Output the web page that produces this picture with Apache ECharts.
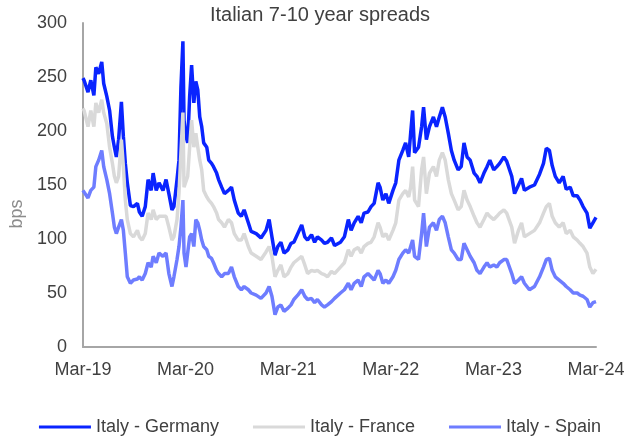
<!DOCTYPE html>
<html>
<head>
<meta charset="utf-8">
<script src="https://cdn.jsdelivr.net/npm/echarts@6/dist/echarts.min.js"></script>
<style>
  html, body { margin: 0; padding: 0; background: #fff; }
  #chart { width: 640px; height: 437px; }
</style>
</head>
<body>
<div id="chart"></div>
<script>
// dates (roughly every 10-14 days)
var dates = [
  '2019-03-01','2019-03-05','2019-03-19','2019-03-29','2019-04-09','2019-04-16','2019-04-26','2019-05-07','2019-05-14','2019-05-25',
  '2019-06-04','2019-06-14','2019-06-21','2019-06-28','2019-07-06','2019-07-16','2019-07-23','2019-07-30','2019-08-06','2019-08-17',
  '2019-08-28','2019-09-11','2019-09-18','2019-09-28','2019-10-09','2019-10-19','2019-10-30','2019-11-06','2019-11-17','2019-11-27',
  '2019-12-11',
  '2019-12-22','2020-01-01','2020-01-12','2020-01-19','2020-01-30','2020-02-06','2020-02-13','2020-02-20','2020-02-24','2020-03-02',
  '2020-03-08','2020-03-15','2020-03-22','2020-03-30','2020-04-06','2020-04-13','2020-04-20','2020-04-27','2020-05-04','2020-05-15',
  '2020-05-22','2020-06-01','2020-06-08','2020-06-19','2020-06-26','2020-07-07','2020-07-17','2020-07-31','2020-08-11','2020-08-21',
  '2020-09-04','2020-09-15','2020-09-25','2020-10-10',
  '2020-10-20','2020-11-07','2020-11-24','2020-12-12','2020-12-23','2021-01-02','2021-01-13','2021-01-23','2021-02-03','2021-02-14',
  '2021-02-28','2021-03-11','2021-03-21','2021-04-04','2021-04-18','2021-04-29','2021-05-09','2021-05-23','2021-06-03','2021-06-13',
  '2021-06-28','2021-07-08','2021-07-19','2021-08-02','2021-08-13',
  '2021-08-20','2021-09-03','2021-09-17','2021-10-01','2021-10-11','2021-10-22','2021-11-05','2021-11-16','2021-11-26','2021-12-10',
  '2021-12-21','2022-01-01','2022-01-15','2022-01-22','2022-02-01','2022-02-12','2022-02-22','2022-03-09','2022-03-19','2022-03-30',
  '2022-04-13','2022-04-23','2022-05-04','2022-05-11','2022-05-18','2022-05-25','2022-06-08',
  '2022-06-19','2022-06-26','2022-07-06','2022-07-17','2022-07-31','2022-08-11','2022-08-21','2022-09-01','2022-09-11','2022-09-22',
  '2022-10-03','2022-10-13','2022-10-27','2022-11-07','2022-11-17','2022-11-28','2022-12-09','2022-12-23','2023-01-02','2023-01-13',
  '2023-01-27','2023-02-07','2023-02-17','2023-03-03','2023-03-14','2023-03-24','2023-04-08',
  '2023-04-18','2023-05-06','2023-05-16','2023-05-30','2023-06-10','2023-06-20','2023-07-08','2023-07-26','2023-08-13','2023-08-27',
  '2023-09-06','2023-09-17','2023-09-27','2023-10-08','2023-10-22','2023-11-05','2023-11-16','2023-11-30','2023-12-11','2023-12-25',
  '2024-01-04','2024-01-15','2024-01-29','2024-02-08','2024-02-19','2024-03-01'
];

var italyGermany = [
  249,247,236,247,233,259,253,264,244,232,219,195,185,176,192,227,195,170,152,131,130,133,125,121,130,155,145,161,145,152,145,
  155,142,127,130,155,173,241,283,210,195,189,232,261,226,246,238,213,204,189,185,173,170,167,161,155,148,142,145,148,136,124,121,127,115,
  107,105,101,108,118,102,85,93,97,87,90,96,97,105,113,102,99,104,97,102,99,96,97,101,94,
  93,97,102,118,108,115,121,115,124,125,130,133,152,148,136,142,133,145,152,173,182,189,176,198,219,180,185,
  204,222,192,204,213,204,213,222,213,198,182,173,164,167,189,176,173,161,158,152,161,167,173,164,167,170,176,
  172,158,142,150,156,145,148,150,160,170,184,182,168,158,152,158,146,148,140,140,136,130,124,110,115,120
];

var italyFrance = [
  221,219,204,219,204,226,217,229,217,207,185,170,158,152,158,192,167,136,118,105,102,108,102,99,105,124,118,127,118,121,121,
  121,111,99,102,118,142,180,217,148,148,158,185,210,185,198,185,173,164,145,139,136,133,130,124,118,115,111,118,115,105,99,99,105,93,
  87,84,81,88,93,84,65,71,76,65,68,74,78,81,84,76,68,71,70,71,68,67,65,70,68,
  68,74,78,90,84,90,92,87,93,96,97,102,115,111,102,105,99,108,115,136,142,145,139,148,167,136,130,
  164,176,142,161,167,158,173,180,173,155,142,136,127,130,145,136,130,121,115,111,118,124,121,118,121,124,127,
  124,111,96,108,115,102,105,108,115,124,130,133,121,115,111,115,105,108,102,99,96,93,87,74,68,72
];

var italySpain = [
  145,144,138,145,148,167,173,182,167,155,142,124,111,105,111,118,108,87,65,59,62,63,65,62,68,78,74,84,78,87,84,
  87,68,56,65,81,93,111,136,87,74,87,102,105,93,118,115,108,99,93,90,84,82,78,71,68,65,68,68,74,65,56,53,56,53,
  50,48,45,50,56,47,30,37,39,33,36,39,44,48,53,47,44,45,41,44,39,37,39,42,45,
  45,50,53,59,53,59,62,56,65,68,65,62,71,68,59,62,59,65,71,81,87,90,87,93,99,84,81,
  105,124,93,111,115,108,118,121,115,102,90,87,81,81,96,90,84,78,71,68,74,78,74,76,74,78,81,
  81,68,59,62,65,59,53,56,65,74,81,82,71,65,62,59,56,53,50,50,48,47,44,37,41,42
];

var seriesNames = ['Italy - Germany', 'Italy - France', 'Italy - Spain'];
var xStart = '2019-03-01', xEnd = '2024-03-01';

var t0 = Date.parse(xStart), t1 = Date.parse(xEnd);
var step = (t1 - t0) / 5;

function pairs(vals) {
  return vals.map(function (v, i) { return [Date.parse(dates[i]), v]; });
}

var chart = echarts.init(document.getElementById('chart'));
var txt = '#404040';
chart.setOption({
  animation: false,
  title: {
    text: 'Italian 7-10 year spreads',
    left: 'center',
    top: 0,
    textStyle: { fontFamily: 'Liberation Sans', fontSize: 20, fontWeight: 'normal', color: txt }
  },
  grid: { left: 78, right: 44, top: 23, bottom: 90 },
  legend: {
    top: 413,
    icon: 'rect',
    itemWidth: 52,
    itemHeight: 3,
    itemGap: 34,
    textStyle: { fontFamily: 'Liberation Sans', fontSize: 18, color: txt },
    data: seriesNames
  },
  xAxis: {
    type: 'value',
    min: t0,
    max: t1,
    interval: step,
    splitLine: { show: false },
    axisTick: { show: false },
    axisLine: { lineStyle: { color: '#a6a6a6', width: 2 } },
    axisLabel: {
      fontFamily: 'Liberation Sans', fontSize: 18, color: txt, margin: 14,
      showMinLabel: true, showMaxLabel: true,
      formatter: function (v) { return 'Mar-' + (19 + Math.round((v - t0) / step)); }
    }
  },
  yAxis: {
    type: 'value',
    min: 0,
    max: 300,
    interval: 50,
    name: 'bps',
    nameLocation: 'middle',
    nameRotate: 90,
    nameGap: 56,
    nameTextStyle: { fontFamily: 'Liberation Sans', fontSize: 18, color: '#8c8c8c', padding: [0, 58, 0, 0] },
    splitLine: { show: false },
    axisTick: { show: false },
    axisLine: { show: true, lineStyle: { color: '#a6a6a6', width: 2 } },
    axisLabel: { fontFamily: 'Liberation Sans', fontSize: 18, color: txt, margin: 16 }
  },
  series: [
    { name: seriesNames[0], type: 'line', data: pairs(italyGermany), showSymbol: false,
      itemStyle: { color: '#0a24ff' }, lineStyle: { color: '#0a24ff', width: 3.5 } },
    { name: seriesNames[1], type: 'line', data: pairs(italyFrance), showSymbol: false,
      itemStyle: { color: '#d9d9d9' }, lineStyle: { color: '#d9d9d9', width: 3.5 } },
    { name: seriesNames[2], type: 'line', data: pairs(italySpain), showSymbol: false,
      itemStyle: { color: '#6e7dff' }, lineStyle: { color: '#6e7dff', width: 3.5 } }
  ]
});
</script>
</body>
</html>
